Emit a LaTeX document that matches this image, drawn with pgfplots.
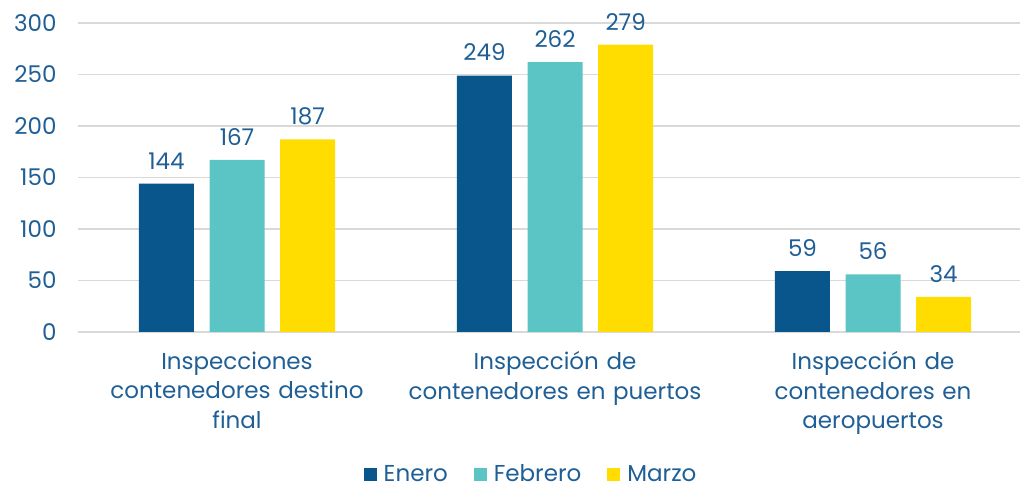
\documentclass[border=0pt]{standalone}
\usepackage{pgfplots}
\pgfplotsset{compat=1.18}
\usepackage{fontspec}
\setmainfont{Poppins}
\definecolor{txt}{HTML}{1F5F96}
\definecolor{ene}{HTML}{08568C}
\definecolor{feb}{HTML}{5BC5C5}
\definecolor{mar}{HTML}{FFDD00}
\definecolor{grd}{HTML}{D9D9D9}
\begin{document}
\begin{tikzpicture}
\begin{axis}[name=ax, scale only axis, width=942pt, height=309pt,
  xmin=-0.5, xmax=2.462, ymin=0, ymax=300, ytick={0,50,...,300},
  axis line style={draw=none}, tick style={draw=none},
  ymajorgrids, grid style={grd, line width=1.5pt},
  xtick={0,1,2},
  xticklabels={{Inspecciones\\contenedores destino\\final},{Inspección de\\contenedores en puertos},{Inspección de\\contenedores en\\aeropuertos}},
  xticklabel style={text width=320pt, align=center, text=txt, font=\fontsize{23}{29.5}\selectfont, yshift=-12pt},
  yticklabel style={text=txt, font=\fontsize{23}{25}\selectfont, xshift=-18pt},
  /pgf/number format/assume math mode=true,
  ybar, bar width=0.173,
  nodes near coords,
  every node near coord/.append style={text=txt, font=\fontsize{23}{25}\selectfont, yshift=11pt},
  legend style={at={(0.481,-0.46)}, anchor=center, legend columns=-1, draw=none,
    font=\fontsize{23}{25}\selectfont, text=txt,
    /tikz/every odd column/.append style={column sep=5pt},
    /tikz/every even column/.append style={column sep=24pt}},
  legend image code/.code={\path[#1,draw=none] (0pt,-6.5pt) rectangle (13pt,6.5pt);},
]
\addplot[fill=ene, draw=none, bar shift=-0.222] coordinates {(0,144) (1,249) (2,59)};
\addplot[fill=feb, draw=none, bar shift=0] coordinates {(0,167) (1,262) (2,56)};
\addplot[fill=mar, draw=none, bar shift=0.222] coordinates {(0,187) (1,279) (2,34)};
\legend{Enero, Febrero, Marzo}
\end{axis}
\pgfresetboundingbox
\path (ax.south west) ++(-78pt,-157pt) rectangle ++(1021pt,489pt);
\end{tikzpicture}
\end{document}
